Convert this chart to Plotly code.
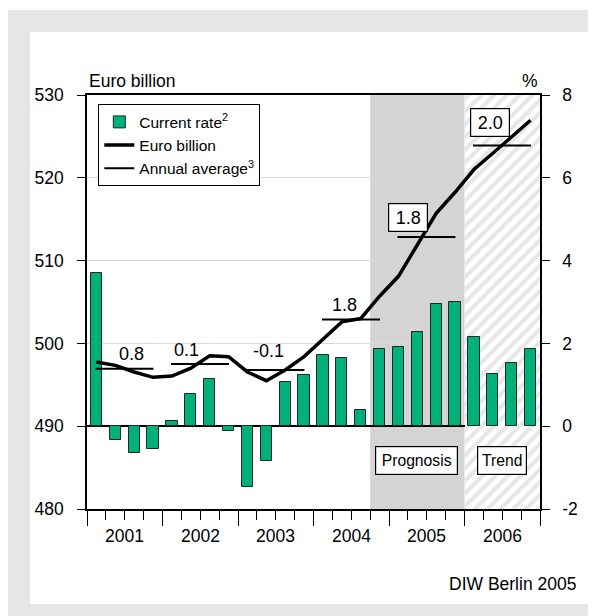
import numpy as np
import plotly.graph_objects as go

# ---- data ----
years = ["2001", "2002", "2003", "2004", "2005", "2006"]
current_rate = [3.69, -0.33, -0.65, -0.54, 0.13, 0.78, 1.13, -0.12,
                -1.46, -0.85, 1.06, 1.24, 1.71, 1.65, 0.38, 1.86,
                1.91, 2.27, 2.96, 3.00, 2.15, 1.26, 1.53, 1.87]
euro_billion = [497.75, 497.35, 496.55, 495.90, 496.05, 497.00, 498.50, 498.40,
                496.55, 495.50, 496.80, 498.40, 500.50, 502.60, 503.00, 505.70,
                508.10, 511.85, 515.70, 518.25, 521.00, 522.96, 524.90, 526.95]
annual_average = [496.95, 497.50, 496.80, 502.90, 512.85, 523.90]
annual_labels = ["0.8", "0.1", "-0.1", "1.8", "1.8", "2.0"]
left_ticks = [480, 490, 500, 510, 520, 530]
right_ticks = [-2, 0, 2, 4, 6, 8]
right_ticktext = ["-2", "0", "2", "4", "6", "8"]

# ---- layout constants ----
FONT = "Liberation Sans, Arial, Helvetica, sans-serif"
GREEN = "#00b07a"
n_q = len(current_rate)
xq = np.arange(n_q) + 0.5           # quarter centres
year_start = np.arange(len(years)) * 4
prog_start, trend_start = 15, 20    # quarter index where shading starts

# window geometry (page body has an 8px margin)
OFF = 8
WIN_W, WIN_H = 596, 616
PL, PR, PT, PB = 87, 540, 95, 509   # plot area in window pixels
W, H = WIN_W - OFF, WIN_H - OFF
L, T = PL - OFF, PT - OFF
R, B = WIN_W - PR, WIN_H - PB
PW, PH = PR - PL, PB - PT


def px_x(p):
    return (p - PL) / PW


def px_y(p):
    return (PB - p) / PH


fig = go.Figure()

# hatched "Trend" background (left axis scale)
fig.add_trace(go.Bar(
    x=[(trend_start + n_q) / 2], y=[left_ticks[-1] - left_ticks[0]], base=[left_ticks[0]],
    width=[n_q - trend_start], yaxis="y", xaxis="x",
    marker=dict(color="white", line=dict(width=0),
                pattern=dict(shape="/", fgcolor="#cdcdcd", bgcolor="white",
                             size=9, solidity=0.45)),
    showlegend=False, hoverinfo="skip"))

# bars
fig.add_trace(go.Bar(
    x=xq, y=current_rate, width=0.6, yaxis="y2", xaxis="x",
    name="Current rate<sup>2</sup>",
    marker=dict(color=GREEN, line=dict(color="#1a2a22", width=1))))

# euro billion line
fig.add_trace(go.Scatter(
    x=xq, y=euro_billion, yaxis="y3", xaxis="x", mode="lines",
    name="Euro billion", line=dict(color="black", width=3.5)))

# annual averages
ax, ay = [], []
for ys, v in zip(year_start, annual_average):
    ax += [ys + 0.45, ys + 3.52, None]
    ay += [v, v, None]
fig.add_trace(go.Scatter(
    x=ax, y=ay, yaxis="y3", xaxis="x", mode="lines",
    name="Annual average<sup>3</sup>", line=dict(color="black", width=2)))

# ---- shapes ----
shapes = [
    dict(type="rect", xref="paper", yref="paper", layer="below",
         x0=px_x(8), x1=px_x(WIN_W + 20), y0=px_y(WIN_H + 20), y1=px_y(10),
         fillcolor="#e6e6e6", line=dict(width=0)),
    dict(type="rect", xref="paper", yref="paper", layer="below",
         x0=px_x(30), x1=px_x(590), y0=px_y(604), y1=px_y(32),
         fillcolor="white", line=dict(width=0)),
    dict(type="rect", xref="x", yref="paper", layer="below",
         x0=prog_start, x1=trend_start, y0=0, y1=1,
         fillcolor="#d4d4d4", line=dict(width=0)),
]

# ---- annotations ----
annotations = []
label_dx = [2.35, 1.26, 1.59, 1.65, 1.02, 1.33]
label_dy = [15, 14, 19, 14.5, 19.5, 23]
boxed = [False, False, False, False, True, True]
for ys, v, t, dx, dy, bx in zip(year_start, annual_average, annual_labels,
                                 label_dx, label_dy, boxed):
    a = dict(x=ys + dx, y=v, xref="x", yref="y", text=t, showarrow=False,
             yshift=dy, font=dict(size=18, family=FONT, color="black"),
             xanchor="center", yanchor="middle")
    if bx:
        a.update(bgcolor="white", bordercolor="black", borderwidth=1.2,
                 borderpad=3, width=32, height=21)
    annotations.append(a)

# year labels under the axis
for ys, yr in zip(year_start, years):
    annotations.append(dict(x=ys + 2, y=px_y(535.5), xref="x", yref="paper", text=yr,
                            showarrow=False, xanchor="center", yanchor="middle",
                            font=dict(size=17.5, family=FONT, color="black")))

box_y = px_y(475.2)
annotations.append(dict(x=17.45, y=box_y, xref="x", yref="paper", text="Prognosis",
                        showarrow=False, font=dict(size=15.7, family=FONT, color="black"),
                        bgcolor="white", bordercolor="black", borderwidth=1.2,
                        borderpad=3, width=75, height=21))
annotations.append(dict(x=21.98, y=box_y, xref="x", yref="paper", text="Trend",
                        showarrow=False, font=dict(size=15.7, family=FONT, color="black"),
                        bgcolor="white", bordercolor="black", borderwidth=1.2,
                        borderpad=3, width=42, height=21))
annotations.append(dict(x=0, y=px_y(80.5), xref="paper", yref="paper",
                        text="Euro billion", showarrow=False, xanchor="left",
                        yanchor="middle", font=dict(size=17.5, family=FONT, color="black")))
annotations.append(dict(x=1, y=px_y(80.5), xref="paper", yref="paper",
                        text="%", showarrow=False, xanchor="right",
                        yanchor="middle", font=dict(size=17.5, family=FONT, color="black")))
annotations.append(dict(x=px_x(578), y=px_y(584), xref="paper", yref="paper",
                        text="DIW Berlin 2005", showarrow=False, xanchor="right",
                        yanchor="middle", font=dict(size=17.5, family=FONT, color="black")))

tickfont = dict(size=17.5, family=FONT, color="black")

fig.update_layout(
    width=W, height=H,
    margin=dict(l=L, r=R, t=T, b=B, autoexpand=False),
    paper_bgcolor="white", plot_bgcolor="rgba(0,0,0,0)",
    font=dict(family=FONT, color="black"),
    barmode="overlay", bargap=0,
    shapes=shapes, annotations=annotations,
    showlegend=True,
    legend=dict(x=px_x(98.3), y=px_y(104.3), xanchor="left", yanchor="top",
                bgcolor="white", bordercolor="black", borderwidth=1,
                font=dict(size=15.5, family=FONT, color="black"),
                tracegroupgap=0, itemwidth=30),
    xaxis=dict(range=[0, n_q], showgrid=False, zeroline=False,
               showline=True, linecolor="black", linewidth=1.5, mirror=True,
               tickmode="array", tickvals=list(range(0, n_q + 1, 4)),
               ticks="outside", ticklen=15, tickwidth=1.2, tickcolor="black",
               showticklabels=False,
               minor=dict(tickmode="array", tickvals=list(range(n_q + 1)),
                          ticks="outside", ticklen=9, tickwidth=1, tickcolor="black",
                          showgrid=False)),
    yaxis=dict(range=[left_ticks[0], left_ticks[-1]], tickmode="array", tickvals=left_ticks,
               showgrid=True, gridcolor="#d9d9d9", gridwidth=1, zeroline=False,
               showline=True, linecolor="black", linewidth=1.5,
               ticks="outside", ticklen=8, tickwidth=1.2, tickcolor="black",
               ticklabelstandoff=10, tickfont=tickfont),
    yaxis2=dict(range=[right_ticks[0], right_ticks[-1]], overlaying="y", side="right",
                anchor="x", tickmode="array", tickvals=right_ticks,
                ticktext=right_ticktext, showgrid=False,
                zeroline=True, zerolinecolor="black", zerolinewidth=1.5,
                showline=True, linecolor="black", linewidth=1.5,
                ticks="outside", ticklen=8, tickwidth=1.2, tickcolor="black",
                ticklabelstandoff=9, tickfont=tickfont),
    yaxis3=dict(range=[left_ticks[0], left_ticks[-1]], overlaying="y", visible=False),
)

fig.write_html("out.html")
